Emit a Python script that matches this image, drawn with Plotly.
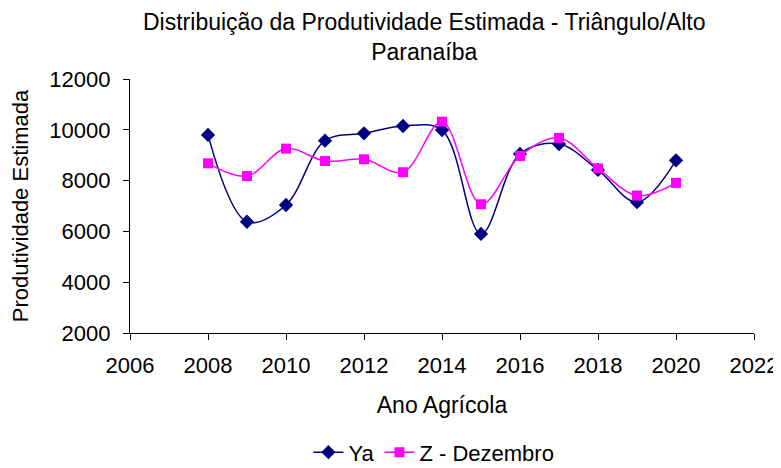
import plotly.graph_objects as go

years = [2008, 2009, 2010, 2011, 2012, 2013, 2014, 2015, 2016, 2017, 2018, 2019, 2020]
ya = [9800, 6380, 7040, 9570, 9860, 10150, 9990, 5900, 9050, 9440, 8420, 7150, 8800]
z_dez = [8680, 8180, 9260, 8770, 8840, 8330, 10320, 7070, 8970, 9680, 8480, 7410, 7910]

font = dict(family="Arial, Liberation Sans, sans-serif", color="black")

fig = go.Figure()
fig.add_trace(go.Scatter(
    x=years, y=ya, name="Ya", mode="lines+markers",
    line=dict(color="#000080", width=1.5, shape="spline", smoothing=1.0),
    marker=dict(symbol="diamond", size=11, color="#000080"),
))
fig.add_trace(go.Scatter(
    x=years, y=z_dez, name="Z - Dezembro", mode="lines+markers",
    line=dict(color="#FF00FF", width=1.5, shape="spline", smoothing=1.0),
    marker=dict(symbol="square", size=10, color="#FF00FF"),
))

fig.update_layout(
    width=781, height=468,
    paper_bgcolor="white", plot_bgcolor="white",
    font=dict(size=22, **font),
    margin=dict(l=122, r=35, t=71, b=143, autoexpand=False),
    title=dict(
        text="Distribuição da Produtividade Estimada - Triângulo/Alto<br>Paranaíba",
        x=0.533, xanchor="center", xref="container",
        y=0.952, yanchor="middle", yref="container",
        font=dict(size=23, **font),
        automargin=False,
    ),
    xaxis=dict(
        range=[2006, 2022], dtick=2, tick0=2006, tickformat="d",
        showline=True, linecolor="black", linewidth=1.2,
        ticks="outside", ticklen=6, tickcolor="black",
        showgrid=False, zeroline=False, ticklabelstandoff=6,
        automargin=False, tickfont=dict(size=22, **font),
        title=dict(text="Ano Agrícola", standoff=20, font=dict(size=23, **font)),
    ),
    yaxis=dict(
        range=[2000, 12000], dtick=2000, tickformat="d",
        showline=True, linecolor="black", linewidth=1.2,
        ticks="outside", ticklen=6, tickcolor="black",
        showgrid=False, zeroline=False, automargin=False,
        ticklabelstandoff=8, tickfont=dict(size=22, **font),
        title=dict(text="Produtividade Estimada", standoff=22, font=dict(size=22, **font)),
    ),
    legend=dict(
        orientation="h", x=0.487, xanchor="center", y=-0.47, yanchor="middle",
        font=dict(size=22, **font),
    ),
    showlegend=True,
)

fig.write_html("out.html")
